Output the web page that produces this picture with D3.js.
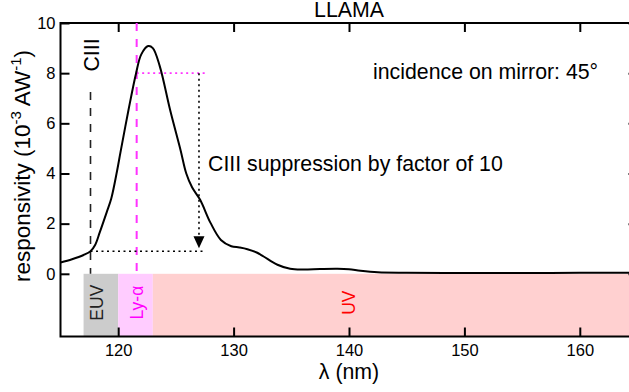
<!DOCTYPE html>
<html><head><meta charset="utf-8">
<script src="https://cdn.jsdelivr.net/npm/d3@7"></script>
<style>body{margin:0;background:#fff;} text{font-family:"Liberation Sans",Arial,sans-serif;}</style>
</head><body>
<script>
// ---- data ----
const title = "LLAMA";
const wavelength = [115,116,117,117.6,118.0,118.4,119.0,119.4,119.9,120.2,120.9,121.55,122.0,122.6,123.0,123.6,124.5,125.4,125.9,126.4,127.1,128.0,128.9,129.8,130.5,131.2,132.0,132.6,133.8,134.9,136,137.5,139,140,141,142.5,145,150,155,160,165];
const responsivity = [0.45,0.58,0.75,0.9,1.15,1.65,2.45,3.0,4.1,4.85,6.55,8.0,8.75,9.08,9.0,8.28,6.53,4.94,4.0,3.45,2.95,2.03,1.35,1.1,1.05,0.98,0.85,0.69,0.36,0.2,0.17,0.19,0.2,0.18,0.12,0.06,0.04,0.03,0.03,0.04,0.04];
const xTicks = [120,130,140,150,160];
const yTicks = [0,2,4,6,8,10];
const bandNames = ["EUV","Ly-α","UV"];
const bandStart = [117,120,123];
const bandEnd = [120,123,165];
const bandLabelAt = [118.2,121.6,140];
const lineCIII = 117.6, lineLyA = 121.6;
const levelLyA = 8, levelCIII = 0.9, arrowAt = 127, arrowTip = 1.02, dottedEnd = 127.6, cIIITop = 7.25;

// ---- styles ----
const bandFill = ["#cccccc","#ffccff","#ffd0d0"];
const bandText = ["#222222","#ff00ff","#ff0000"];

const W = 629, H = 392;
const svg = d3.select("body").append("svg").attr("width",W).attr("height",H);
const x = d3.scaleLinear().domain([115,165]).range([60.5,637.5]);
const y = d3.scaleLinear().domain([-2.5,10]).range([336.5,23]);

// bands
bandNames.forEach((n,i)=>{
  svg.append("rect").attr("x",x(bandStart[i])).attr("y",y(0))
    .attr("width",x(bandEnd[i])-x(bandStart[i])).attr("height",y(-2.5)-y(0))
    .attr("fill",bandFill[i]);
  const cx = x(bandLabelAt[i]), cy = y(-1.15);
  svg.append("text").attr("transform",`translate(${cx},${cy}) rotate(-90)`)
    .attr("text-anchor","middle").attr("dominant-baseline","central")
    .attr("font-size",17.5).attr("fill",bandText[i]).text(n);
});

// axes (ticks inward)
const tk = g=>{g.select(".domain").remove(); g.selectAll(".tick line").attr("stroke","#000").attr("stroke-width",2);
  g.selectAll("text").attr("font-size",16.5).attr("fill","#000").attr("font-family","Liberation Sans, Arial, sans-serif");};
svg.append("g").attr("transform",`translate(${x(115)},0)`).call(d3.axisLeft(y).tickValues(yTicks).tickSize(-9).tickPadding(5)).call(tk);
svg.append("g").attr("transform",`translate(${x(165)},0)`).call(d3.axisRight(y).tickValues(yTicks).tickSize(-9).tickFormat("")).call(tk);
svg.append("g").attr("transform",`translate(0,${y(-2.5)})`).call(d3.axisBottom(x).tickValues(xTicks).tickSize(-9).tickPadding(8)).call(tk);
svg.append("g").attr("transform",`translate(0,${y(10)})`).call(d3.axisTop(x).tickValues(xTicks).tickSize(-9).tickFormat("")).call(tk);

// frame
svg.append("rect").attr("x",x(115)).attr("y",y(10)).attr("width",x(165)-x(115)).attr("height",y(-2.5)-y(10))
  .attr("fill","none").attr("stroke","#000").attr("stroke-width",2);

// vertical marker lines
svg.append("line").attr("x1",x(lineCIII)).attr("x2",x(lineCIII)).attr("y1",y(cIIITop)).attr("y2",y(0))
  .attr("stroke","#222").attr("stroke-width",1.6).attr("stroke-dasharray","8,8");
svg.append("line").attr("x1",x(lineLyA)).attr("x2",x(lineLyA)).attr("y1",y(10)).attr("y2",y(0))
  .attr("stroke","#ff33ff").attr("stroke-width",2).attr("stroke-dasharray","8,8");

// dotted guides
svg.append("line").attr("x1",x(lineLyA)).attr("x2",x(dottedEnd)).attr("y1",y(levelLyA)).attr("y2",y(levelLyA))
  .attr("stroke","#ff33ff").attr("stroke-width",1.6).attr("stroke-dasharray","2,3.5");
svg.append("line").attr("x1",x(lineCIII)).attr("x2",x(dottedEnd)).attr("y1",y(levelCIII)).attr("y2",y(levelCIII))
  .attr("stroke","#000").attr("stroke-width",1.6).attr("stroke-dasharray","2,3.5");
svg.append("line").attr("x1",x(arrowAt)).attr("x2",x(arrowAt)).attr("y1",y(levelLyA)).attr("y2",y(arrowTip)-8)
  .attr("stroke","#000").attr("stroke-width",1.6).attr("stroke-dasharray","2,3.5");
const ax = x(arrowAt), ay = y(arrowTip);
svg.append("path").attr("d",`M${ax},${ay} L${ax-5.5},${ay-12} L${ax+5.5},${ay-12} Z`).attr("fill","#000");

// curve
const line = d3.line().x((d,i)=>x(wavelength[i])).y(d=>y(d)).curve(d3.curveCatmullRom.alpha(0.5));
svg.append("path").datum(responsivity).attr("d",line).attr("fill","none").attr("stroke","#000").attr("stroke-width",2);

// texts
const FS = 21.3;
svg.append("text").attr("x",(x(115)+x(165))/2).attr("y",17).attr("text-anchor","middle").attr("font-size",FS).text(title);
svg.append("text").attr("x",373).attr("y",79).attr("font-size",FS).text("incidence on mirror: 45°");
svg.append("text").attr("x",208).attr("y",171).attr("font-size",FS).text("CIII suppression by factor of 10");
svg.append("text").attr("transform",`translate(${x(lineCIII)+8.5},55) rotate(-90)`).attr("text-anchor","middle").attr("font-size",FS).text("CIII");
svg.append("text").attr("x",(x(115)+x(165))/2).attr("y",379).attr("text-anchor","middle").attr("font-size",FS).text("λ (nm)");
const yl = svg.append("text").attr("transform","translate(30,166) rotate(-90)").attr("text-anchor","middle").attr("font-size",22.5);
yl.append("tspan").text("responsivity (10");
yl.append("tspan").attr("font-size",15).attr("dy",-9).text("-3");
yl.append("tspan").attr("dy",9).text(" AW");
yl.append("tspan").attr("font-size",15).attr("dy",-9).text("-1");
yl.append("tspan").attr("dy",9).text(")");
</script>
</body></html>
